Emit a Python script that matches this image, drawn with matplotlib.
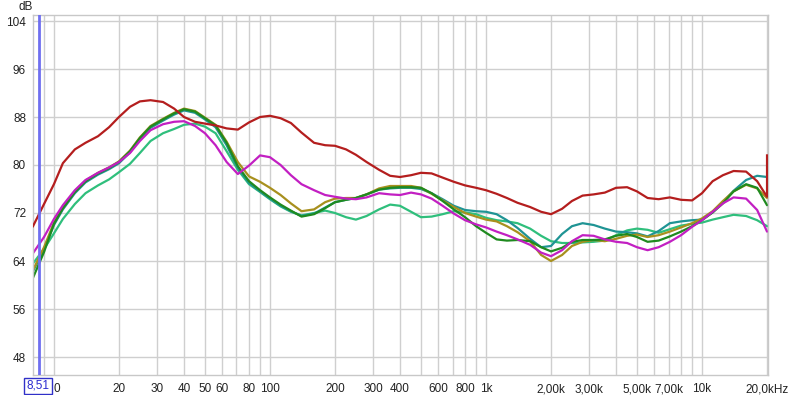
import matplotlib
matplotlib.use("Agg")
import matplotlib.pyplot as plt
from matplotlib.ticker import FixedLocator, NullFormatter, NullLocator

# ---------------- data ----------------
freq = [8, 9, 10, 11, 12.5, 14, 16, 18, 20, 22.5, 25, 28, 32, 36, 40, 45, 50, 56, 63, 71,
        80, 90, 100, 112, 125, 140, 160, 180, 200, 225, 250, 280, 320, 360, 400, 450, 500,
        560, 630, 710, 800, 900, 1000, 1120, 1250, 1400, 1600, 1800, 2000, 2250, 2500,
        2800, 3150, 3550, 4000, 4500, 5000, 5600, 6300, 7100, 8000, 9000, 10000, 11200,
        12500, 14000, 16000, 18000, 20000]

red = [69.8, 73.5, 76.8, 80.3, 82.6, 83.7, 84.8, 86.3, 88.0, 89.7, 90.6, 90.8, 90.5, 89.4,
       88.0, 87.2, 86.9, 86.6, 86.1, 85.9, 87.1, 88.0, 88.2, 87.8, 87.0, 85.4, 83.7, 83.3,
       83.2, 82.6, 81.7, 80.5, 79.2, 78.2, 78.0, 78.3, 78.7, 78.6, 77.9, 77.2, 76.6, 76.2,
       75.8, 75.2, 74.5, 73.7, 73.0, 72.2, 71.8, 72.7, 74.0, 74.9, 75.1, 75.4, 76.2, 76.3,
       75.6, 74.5, 74.3, 74.6, 74.2, 74.1, 75.3, 77.3, 78.3, 79.0, 78.9, 77.3, 74.7]
red_end = 81.6  # spike at the last bin

magenta = [65.3, 68.0, 71.0, 73.3, 75.8, 77.5, 78.7, 79.6, 80.5, 82.0, 84.0, 85.8, 86.8,
           87.2, 87.3, 86.5, 85.3, 83.3, 80.5, 78.5, 79.9, 81.6, 81.3, 80.0, 78.3, 76.8,
           75.8, 75.0, 74.7, 74.4, 74.3, 74.6, 75.3, 75.1, 75.0, 75.4, 75.1, 74.4, 73.2,
           71.9, 70.8, 70.1, 69.6, 68.9, 68.3, 67.6, 66.7, 65.4, 64.8, 65.8, 67.3, 68.3,
           68.2, 67.6, 67.2, 67.0, 66.3, 65.8, 66.3, 67.2, 68.3, 69.7, 70.8, 72.2, 73.6,
           74.6, 74.4, 72.5, 68.9]

dkgreen = [61.2, 65.5, 70.2, 72.8, 75.5, 77.3, 78.6, 79.5, 80.5, 82.3, 84.5, 86.4, 87.6,
           88.6, 89.3, 88.9, 87.8, 86.6, 83.7, 79.8, 77.3, 75.8, 74.6, 73.4, 72.4, 71.4,
           71.8, 72.8, 73.8, 74.2, 74.5, 75.1, 75.9, 76.2, 76.3, 76.3, 76.2, 75.3, 74.0,
           72.6, 71.3, 69.8, 68.7, 67.6, 67.4, 67.5, 67.3, 66.3, 65.6, 66.2, 67.2, 67.5,
           67.5, 67.6, 68.2, 68.5, 68.0, 67.2, 67.4, 68.1, 68.9, 69.8, 70.8, 72.1, 73.6,
           75.6, 76.8, 76.2, 73.3]

olive = [62.5, 66.3, 70.4, 72.9, 75.6, 77.4, 78.7, 79.6, 80.6, 82.4, 84.6, 86.5, 87.7,
         88.7, 89.4, 89.0, 87.9, 86.7, 83.9, 80.5, 78.1, 77.2, 76.2, 75.0, 73.6, 72.3,
         72.6, 73.8, 74.4, 74.5, 74.5, 75.1, 76.1, 76.5, 76.5, 76.5, 76.2, 75.2, 74.1,
         73.0, 72.0, 71.4, 70.9, 70.6, 69.8, 68.8, 67.3, 65.0, 64.0, 65.0, 66.5, 67.2,
         67.5, 67.3, 67.7, 68.2, 68.4, 68.0, 68.3, 68.9, 69.6, 70.3, 71.1, 72.3, 74.0,
         75.6, 76.7, 76.1, 74.5]

ltgreen = [63.6, 66.0, 68.6, 71.0, 73.5, 75.3, 76.6, 77.6, 78.8, 80.2, 82.0, 84.0, 85.3,
           86.0, 86.7, 86.9, 86.4, 85.3, 82.3, 79.2, 76.8, 75.5, 74.3, 73.1, 72.2, 71.6,
           72.0, 72.4, 72.0, 71.3, 70.9, 71.5, 72.6, 73.4, 73.2, 72.2, 71.3, 71.4, 71.8,
           72.3, 72.1, 71.8, 71.2, 70.8, 70.6, 70.3, 69.4, 68.2, 67.3, 67.0, 67.0, 67.1,
           67.2, 67.4, 68.3, 69.1, 69.4, 69.2, 68.7, 69.3, 69.9, 70.2, 70.4, 70.9, 71.3,
           71.7, 71.5, 70.8, 69.8]

teal = [62.3, 66.0, 70.0, 72.6, 75.3, 77.1, 78.4, 79.3, 80.3, 82.1, 84.3, 86.2, 87.4,
        88.4, 89.1, 88.7, 87.6, 86.3, 83.3, 79.5, 77.0, 75.6, 74.4, 73.2, 72.3, 71.5,
        71.9, 72.9, 73.8, 74.2, 74.5, 75.1, 75.9, 76.1, 76.2, 76.2, 76.0, 75.3, 74.3,
        73.2, 72.5, 72.3, 72.2, 71.8, 70.8, 69.5, 67.7, 66.3, 66.5, 68.5, 69.8, 70.3,
        70.0, 69.4, 68.9, 68.8, 68.6, 68.1, 69.0, 70.3, 70.6, 70.8, 70.9, 72.1, 73.8,
        75.7, 77.5, 78.2, 78.0]

series = [
    ("ltgreen", ltgreen, "#2fbf7c"),
    ("teal", teal, "#1f9494"),
    ("olive", olive, "#a8901e"),
    ("dkgreen", dkgreen, "#1f8a1f"),
    ("magenta", magenta, "#c21fc2"),
]

xticks = [10, 20, 30, 40, 50, 60, 80, 100, 200, 300, 400, 600, 800, 1000, 2000, 3000,
          5000, 7000, 10000, 20000]
# the "1" of "10" is hidden behind the cursor box in the reference
xlabels = ["0", "20", "30", "40", "50", "60", "80", "100", "200", "300", "400", "600",
           "800", "1k", "2,00k", "3,00k", "5,00k", "7,00k", "10k", "20,0kHz"]
yticks = [48, 56, 64, 72, 80, 88, 96, 104]
cursor_freq = 8.51
cursor_label = "8,51"

# ---------------- figure ----------------
plt.rcParams["font.family"] = ["Liberation Sans", "DejaVu Sans"]
fig = plt.figure(figsize=(8.0, 3.95), dpi=100)
ax = fig.add_axes([33 / 800, 1 - 375 / 395, (767.5 - 33) / 800, (375 - 15) / 395])
ax.set_xscale("log")
ax.set_xlim(8.0, 20100)
ax.set_ylim(45, 105)

# grid lines: every integer multiple in each decade
grid_x = []
for dec in [1, 10, 100, 1000, 10000]:
    for m in range(1, 10):
        v = m * dec
        if 8 < v <= 20000:
            grid_x.append(v)
for gx in grid_x:
    ax.axvline(gx, color="#cfcfcf", lw=1.0, zorder=0)
for gy in yticks:
    ax.axhline(gy, color="#cfcfcf", lw=1.0, zorder=0)

for name, vals, col in series:
    ax.plot(freq, vals, color=col, lw=1.6, solid_joinstyle="round",
            solid_capstyle="round", zorder=2)
ax.plot(freq + [freq[-1]], red + [red_end], color="#b41e1e", lw=1.6,
        solid_joinstyle="round", zorder=3)

ax.axvline(cursor_freq, color="#6f6ff0", lw=2.0, zorder=4)

ax.xaxis.set_major_locator(FixedLocator(xticks))
ax.set_xticklabels(xlabels)
ax.xaxis.set_minor_locator(NullLocator())
ax.xaxis.set_minor_formatter(NullFormatter())
ax.set_yticks(yticks)
ax.tick_params(axis="both", length=0, labelsize=8.5, colors="#222222")
ax.tick_params(axis="x", pad=6)
ax.tick_params(axis="y", pad=5)
ax.get_xticklabels()[0].set_horizontalalignment("left")
for s in ax.spines.values():
    s.set_color("#c8c8c8")
    s.set_linewidth(1.0)

fig.text(33 / 800, 1 - 7 / 395, "dB", ha="right", va="center", fontsize=8.5,
         color="#222222")
# cursor value box
fig.text(38 / 800, 1 - 386 / 395, cursor_label, ha="center", va="center",
         fontsize=8.5, color="#2a2ad0",
         bbox=dict(boxstyle="square,pad=0.2", fc="white", ec="#3030c8", lw=1.0),
         zorder=10)

fig.savefig("out.png", dpi=100)
